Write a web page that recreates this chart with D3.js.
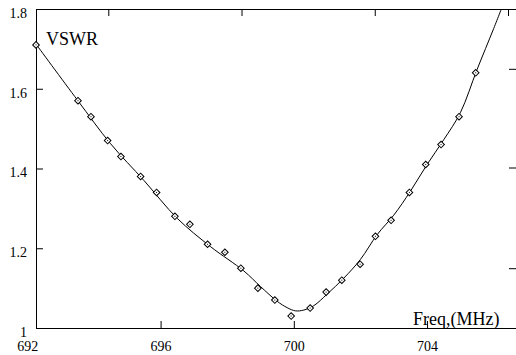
<!DOCTYPE html>
<html>
<head>
<meta charset="utf-8">
<script src="https://cdn.jsdelivr.net/npm/d3@7"></script>
<style>
    body { margin: 0; background: #fff; }
</style>
</head>
<body>
<div id="chart_parent"></div>
<script>
// measured points (diamonds)
const markerFreq = [692.26, 693.52, 693.91, 694.41, 694.81, 695.40, 695.88, 696.43, 696.88, 697.41,
    697.93, 698.41, 698.92, 699.43, 699.92, 700.49, 700.97, 701.44, 701.99, 702.45,
    702.92, 703.47, 703.96, 704.42, 704.96, 705.46];
const markerVswr = [1.71, 1.57, 1.53, 1.47, 1.43, 1.38, 1.34, 1.28, 1.26, 1.21,
    1.19, 1.15, 1.10, 1.07, 1.03, 1.05, 1.09, 1.12, 1.16, 1.23,
    1.27, 1.34, 1.41, 1.46, 1.53, 1.64];

// smooth fitted curve
const curveFreq = [692.26, 693.5, 694.5, 695.5, 696.5, 697.5, 698.5, 699.0, 699.5, 699.8,
    700.05, 700.3, 700.6, 701.0, 701.5, 702.0, 702.5, 703.0, 703.5, 704.0,
    704.5, 705.0, 705.5, 706.0, 706.3];
const curveVswr = [1.712, 1.572, 1.462, 1.37, 1.275, 1.204, 1.143, 1.104, 1.067, 1.051,
    1.043, 1.045, 1.056, 1.085, 1.125, 1.172, 1.234, 1.283, 1.343, 1.41,
    1.472, 1.54, 1.648, 1.751, 1.815];

const xTicks = [692, 696, 700, 704];
const yTicks = [1, 1.2, 1.4, 1.6, 1.8];
const topTicks = [694.43, 698.43, 702.43, 706.43];
const rightTicks = [1.15, 1.4025, 1.65];
const xDomain = [692.26, 706.67];
const yDomain = [1, 1.8];

const config = {
    width: 516,
    height: 355,
    left: 36,
    right: 516,
    top: 9,
    bottom: 328,
};

const serif = 'Liberation Serif';

const svg = d3.select('#chart_parent').append('svg')
    .attr('width', config.width)
    .attr('height', config.height);

const x = d3.scaleLinear().domain(xDomain).range([config.left, config.right]);
const y = d3.scaleLinear().domain(yDomain).range([config.bottom, config.top]);

svg.append('clipPath').attr('id', 'plot-clip')
    .append('rect')
    .attr('x', config.left)
    .attr('y', config.top)
    .attr('width', config.right - config.left)
    .attr('height', config.bottom - config.top);

function styleAxis(g) {
    g.attr('font-family', serif).attr('font-size', 14);
    g.selectAll('path').attr('stroke', '#000').attr('stroke-width', 1);
    g.selectAll('line').attr('stroke', '#000').attr('stroke-width', 1);
    g.selectAll('text').attr('fill', '#000');
}

// bottom axis
const xAxisGroup = svg.append('g')
    .attr('transform', `translate(0,${config.bottom})`)
    .call(d3.axisBottom(x).tickValues(xTicks).tickSizeInner(-7).tickSizeOuter(0).tickPadding(13).tickFormat(d3.format('d')));
styleAxis(xAxisGroup);
xAxisGroup.selectAll('.tick').filter(d => d < xDomain[0]).select('line').remove();

// top axis (ticks only)
const topAxisGroup = svg.append('g')
    .attr('transform', `translate(0,${config.top})`)
    .call(d3.axisTop(x).tickValues(topTicks).tickSizeInner(-7).tickSizeOuter(0).tickFormat(''));
styleAxis(topAxisGroup);

// left axis
const yAxisGroup = svg.append('g')
    .attr('transform', `translate(${config.left},0)`)
    .call(d3.axisLeft(y).tickValues(yTicks).tickSizeInner(-7).tickSizeOuter(0).tickPadding(9)
        .tickFormat(d => (d === 1 ? '1' : d.toFixed(1))));
styleAxis(yAxisGroup);
yAxisGroup.selectAll('text').attr('dy', '0.6em');

// right axis (ticks only)
const rightAxisGroup = svg.append('g')
    .attr('transform', `translate(${config.right},0)`)
    .call(d3.axisRight(y).tickValues(rightTicks).tickSizeInner(-7).tickSizeOuter(0).tickFormat(''));
styleAxis(rightAxisGroup);

// fitted curve
const curveData = curveFreq.map((f, i) => ({ f, v: curveVswr[i] }));
svg.append('path')
    .datum(curveData)
    .attr('clip-path', 'url(#plot-clip)')
    .attr('fill', 'none')
    .attr('stroke', '#000')
    .attr('stroke-width', 1)
    .attr('d', d3.line().x(d => x(d.f)).y(d => y(d.v)).curve(d3.curveCatmullRom.alpha(0.5)));

// diamonds
const markerData = markerFreq.map((f, i) => ({ f, v: markerVswr[i] }));
const markers = svg.append('g').selectAll('g.marker')
    .data(markerData)
    .enter()
    .append('g')
    .attr('class', 'marker')
    .attr('transform', d => `translate(${x(d.f)},${y(d.v)})`);

markers.append('path')
    .attr('d', d3.symbol(d3.symbolSquare, 22)())
    .attr('transform', 'rotate(45)')
    .attr('fill', '#fff')
    .attr('stroke', '#000')
    .attr('stroke-width', 1);

markers.append('rect')
    .attr('x', -0.5).attr('y', -0.5)
    .attr('width', 1).attr('height', 1)
    .attr('fill', '#000');

// labels
svg.append('text')
    .attr('x', x(692.56))
    .attr('y', y(1.7125) + 1.5)
    .attr('font-family', serif)
    .attr('font-size', 18)
    .text('VSWR');

svg.append('text')
    .attr('x', x(703.58))
    .attr('y', y(1.0075))
    .attr('font-family', serif)
    .attr('font-size', 18)
    .text('Freq,(MHz)');
</script>
</body>
</html>
